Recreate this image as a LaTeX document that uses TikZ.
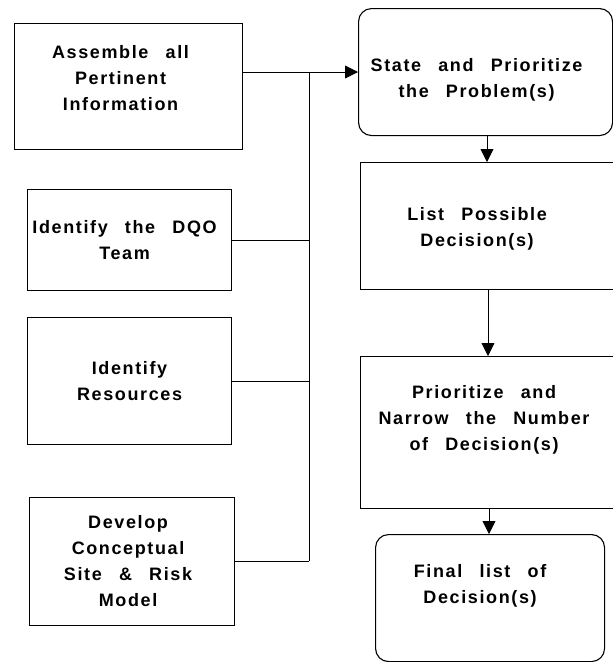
\documentclass[tikz,border=0pt]{standalone}
\usepackage{fontspec}
\setmainfont{Liberation Sans}[LetterSpace=9,WordSpace=2.6]
\usetikzlibrary{arrows.meta}
\begin{document}
\begin{tikzpicture}[x=1pt,y=-1pt,line width=1pt,
  box/.style={draw,line width=1.1pt,anchor=north west,inner sep=0pt},
  rbox/.style={box,rounded corners=13pt},
  txt/.style={font=\fontsize{18}{26}\selectfont\bfseries,align=center,inner sep=0pt},
  arr/.style={-{Triangle[length=13pt,width=13pt]}},
  conn/.style={line width=0.9pt}]
\useasboundingbox (0,0) rectangle (613,662);
% left boxes
\node[box,minimum width=228pt,minimum height=126pt] (asm) at (14,23) {};
\node[txt] (asmt) at ([shift={(-8,-8)}]asm.center) {Assemble all\\Pertinent\\Information};
\node[box,minimum width=204pt,minimum height=101pt] (dqo) at (27,189) {};
\node[txt] (dqot) at ([shift={(-5,0)}]dqo.center) {Identify the DQO\\Team};
\node[box,minimum width=204pt,minimum height=127pt] (res) at (27,317) {};
\node[txt] (rest) at (res.center) {Identify\\Resources};
\node[box,minimum width=205pt,minimum height=128pt] (dev) at (29,497) {};
\node[txt] (devt) at ([shift={(-4,0)}]dev.center) {Develop\\Conceptual\\Site \& Risk\\Model};
% right boxes
\node[rbox,minimum width=254pt,minimum height=127pt] (st) at (358,8) {};
\node[txt] (stt) at ([shift={(-9,8)}]st.center) {State and Prioritize\\the Problem(s)};
\node[box,minimum width=253pt,minimum height=127pt] (ls) at (360,162) {};
\node[txt] (lst) at ([shift={(-10,3)}]ls.center) {List Possible\\Decision(s)};
\node[box,minimum width=253pt,minimum height=152pt] (pr) at (360,356) {};
\node[txt] (prt) at ([shift={(-3,-13)}]pr.center) {Prioritize and\\Narrow the Number\\of Decision(s)};
\node[rbox,minimum width=229pt,minimum height=127pt] (fn) at (375,534) {};
\node[txt] (fnt) at ([shift={(-10,-12)}]fn.center) {Final list of\\Decision(s)};
% bus
\coordinate (bt) at (309,72);
\coordinate (bb) at (309,561);
\draw[conn] (asm.east |- bt) -- (bt);
\draw[conn] (bt) -- (bb);
\draw[conn,arr] (bt) -- (st.west |- bt);
\draw[conn] (dqo.east) -- (dqo.east -| bt);
\draw[conn] (res.east) -- (res.east -| bt);
\draw[conn] (dev.east) -- (dev.east -| bt);
% right chain
\draw[conn,arr] (st.south -| 487,0) -- (ls.north -| 487,0);
\draw[conn,arr] (ls.south -| 488,0) -- (pr.north -| 488,0);
\draw[conn,arr] (pr.south -| 489,0) -- (fn.north -| 489,0);
\end{tikzpicture}
\end{document}
